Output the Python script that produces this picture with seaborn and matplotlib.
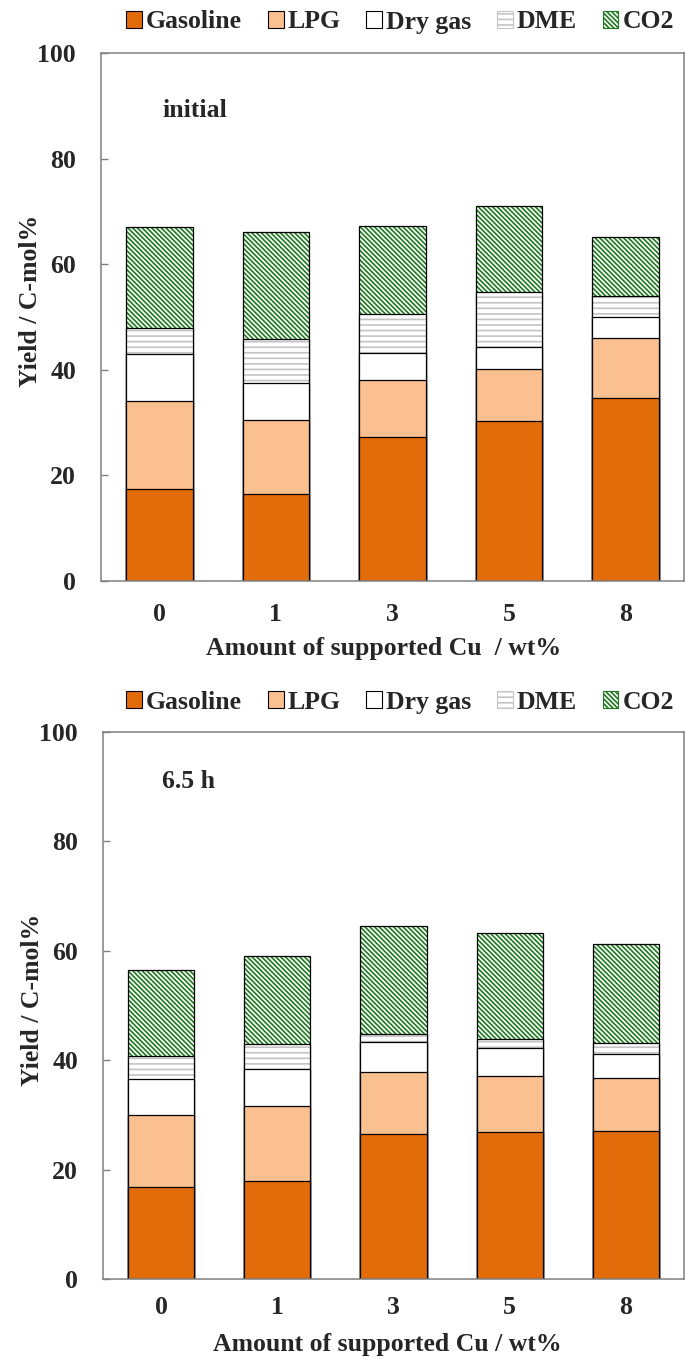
import matplotlib
matplotlib.use("Agg")
import numpy as np
import matplotlib.pyplot as plt
from matplotlib.patches import Patch
import seaborn as sns

# Cu loading (wt%) on the catalyst
cu_loading = ["0", "1", "3", "5", "8"]
components = ["Gasoline", "LPG", "Dry gas", "DME", "CO2"]

# Product yields (C-mol%) at the start of the run
initial_gasoline = [17.4, 16.5, 27.3, 30.3, 34.7]
initial_lpg = [16.7, 14.0, 10.8, 9.9, 11.3]
initial_drygas = [8.9, 7.0, 5.0, 4.1, 4.0]
initial_dme = [4.9, 8.3, 7.5, 10.4, 4.0]
initial_co2 = [19.1, 20.3, 16.6, 16.4, 11.2]

# Product yields (C-mol%) after 6.5 h on stream
late_gasoline = [16.8, 18.0, 26.5, 26.8, 27.0]
late_lpg = [13.2, 13.6, 11.3, 10.3, 9.8]
late_drygas = [6.6, 6.7, 5.6, 5.1, 4.3]
late_dme = [4.2, 4.6, 1.3, 1.6, 2.0]
late_co2 = [15.6, 16.1, 19.9, 19.4, 18.1]

sns.set_style("white")
plt.rcParams["font.family"] = ["Liberation Serif", "DejaVu Serif"]
plt.rcParams["font.weight"] = "bold"
plt.rcParams["axes.labelweight"] = "bold"
plt.rcParams["hatch.linewidth"] = 1.2

FS = 18.5
face = {"Gasoline": "#E36C0A", "LPG": "#FAC090", "Dry gas": "#FFFFFF",
        "DME": "#FFFFFF", "CO2": "#FFFFFF"}
hatch = {"DME": "---", "CO2": "\\" * 7}
hatch_col = {"DME": "#C4C4C4", "CO2": "#1E7A1E"}
SPINE = "#808080"
BAR_W = 0.57


def draw_panel(ax, layers, note, note_xy, xlabel, xpad, ylabel_y):
    tops = np.cumsum(np.array(layers), axis=0)
    # paint cumulative totals from the top layer down so each lower layer covers the one above
    for i in range(len(components) - 1, -1, -1):
        comp = components[i]
        top = tops[i]
        if comp in hatch:
            sns.barplot(x=cu_loading, y=top, order=cu_loading, color="white",
                        edgecolor=hatch_col[comp], hatch=hatch[comp], linewidth=0,
                        width=BAR_W, saturation=1, errorbar=None, ax=ax)
            sns.barplot(x=cu_loading, y=top, order=cu_loading, fill=False,
                        color="black", linewidth=0.9, width=BAR_W,
                        errorbar=None, ax=ax)
        else:
            sns.barplot(x=cu_loading, y=top, order=cu_loading, color=face[comp],
                        edgecolor="black", linewidth=0.9, width=BAR_W,
                        saturation=1, errorbar=None, ax=ax)

    ax.set_xlim(-0.5, 4.5)
    ax.set_ylim(0, 100)
    ax.set_yticks(range(0, 101, 20))
    for s in ax.spines.values():
        s.set_visible(True)
        s.set_color(SPINE)
        s.set_linewidth(1.1)
    ax.tick_params(axis="y", direction="in", length=5, width=1, color=SPINE,
                   pad=18, labelsize=FS, left=True)
    ax.tick_params(axis="x", length=0, pad=xpad, labelsize=FS)
    for lab in ax.get_xticklabels() + ax.get_yticklabels():
        lab.set_fontweight("bold")
    ax.set_ylabel("Yield / C-mol%", fontsize=FS, fontweight="bold")
    ax.yaxis.set_label_coords(-0.101, ylabel_y)
    ax.set_xlabel(xlabel, fontsize=FS, fontweight="bold")
    ax.text(note_xy[0], note_xy[1], note, transform=ax.transAxes, fontsize=FS,
            fontweight="bold", ha="left", va="center")


def legend_handles():
    hs = []
    for comp in components:
        if comp in hatch:
            hs.append(Patch(facecolor="white", edgecolor=hatch_col[comp],
                            hatch=hatch[comp], linewidth=0.8, label=comp))
        else:
            hs.append(Patch(facecolor=face[comp], edgecolor="black",
                            linewidth=0.8, label=comp))
    return hs


fig = plt.figure(figsize=(6.86, 13.58), dpi=100)
W, H = 686, 1358

ax1 = fig.add_axes([101 / W, 1 - 581 / H, 583 / W, 528 / H])
draw_panel(ax1,
           [initial_gasoline, initial_lpg, initial_drygas, initial_dme, initial_co2],
           "initial", (0.106, 0.892), "Amount of supported Cu  / wt%", 16, 0.53)
ax1.xaxis.set_label_coords(0.485, -0.106)

ax2 = fig.add_axes([103 / W, 1 - 1279 / H, 581 / W, 547 / H])
draw_panel(ax2,
           [late_gasoline, late_lpg, late_drygas, late_dme, late_co2],
           "6.5 h", (0.102, 0.909), "Amount of supported Cu / wt%", 12, 0.51)
ax2.xaxis.set_label_coords(0.489, -0.098)

for ycen in (22, 702):
    fig.legend(handles=legend_handles(), loc="center", ncol=5,
               bbox_to_anchor=(400 / W, 1 - ycen / H), frameon=False,
               prop={"size": FS, "weight": "bold"}, handlelength=0.62,
               handleheight=0.62, handletextpad=0.15, columnspacing=1.0,
               borderpad=0, borderaxespad=0)

fig.savefig("out.png", dpi=100)
